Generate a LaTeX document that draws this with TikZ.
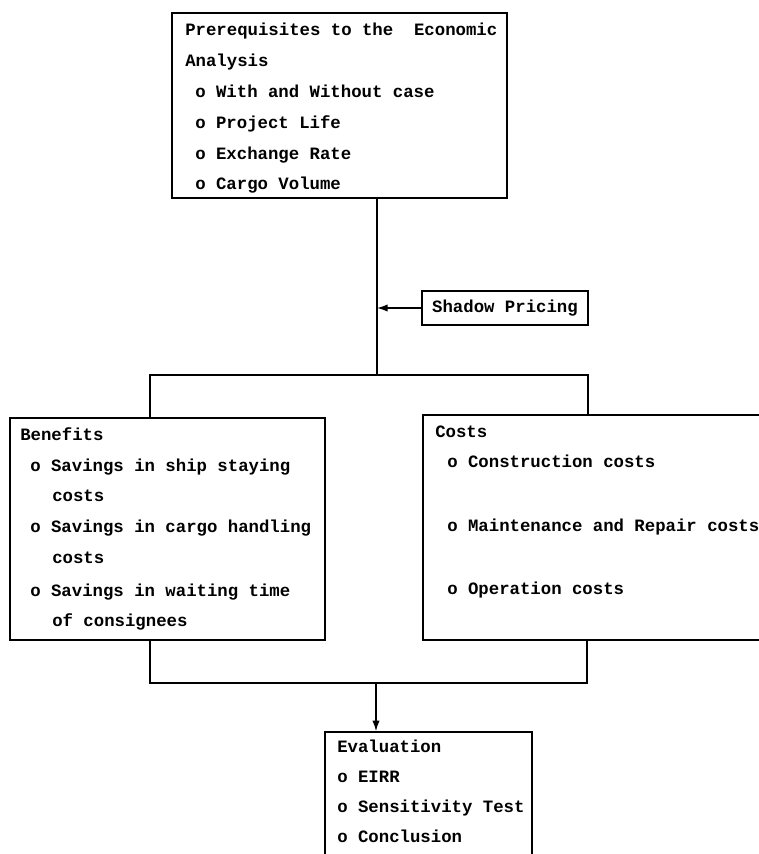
\documentclass[tikz,border=0pt]{standalone}
\usepackage{fontspec}
\setmainfont{Liberation Mono}
\usetikzlibrary{arrows.meta}
\newcommand{\pxu}{0.75pt}

\begin{document}
\begin{tikzpicture}[x=0.75pt, y=-0.75pt,
    box/.style={draw, line width=1.1pt, inner sep=0pt},
    txt/.style={anchor=base west, inner sep=0pt, font=\fontsize{13pt}{15pt}\selectfont\bfseries},
    conn/.style={line width=1.1pt},
    arr/.style={conn, -{Latex[length=8pt, width=5.5pt]}}]
  \useasboundingbox (0,0) rectangle (759,854);

  % Prerequisites box
  \node[box, minimum width=335*\pxu, minimum height=185*\pxu] (prereq) at (339.5,105.5) {};
  \foreach \xx/\yy/\txt [count=\i] in {185/35/Prerequisites to the~~Economic, 185/66/Analysis,
      195/97/o With and Without case, 195/128/o Project Life,
      195/159/o Exchange Rate, 195/189/o Cargo Volume}
    \node[txt] (prereq\i) at (\xx,\yy) {\txt};

  % Shadow pricing
  \node[box, font=\fontsize{13pt}{15pt}\selectfont\bfseries, minimum width=166*\pxu, minimum height=34*\pxu] (shadow) at (505,308) {Shadow Pricing};

  % Benefits box
  \node[box, minimum width=315*\pxu, minimum height=222*\pxu] (benefits) at (167.5,529) {};
  \foreach \xx/\yy/\txt [count=\i] in {20/440/Benefits, 30/471/o Savings in ship staying,
      52/501/costs, 30/532/o Savings in cargo handling, 52/563/costs,
      30/596/o Savings in waiting time, 52/626/of consignees}
    \node[txt] (benefits\i) at (\xx,\yy) {\txt};

  % Costs box
  \node[box, minimum width=377*\pxu, minimum height=225*\pxu] (costs) at (611.5,527.5) {};
  \foreach \xx/\yy/\txt [count=\i] in {435/437/Costs, 447/467/o Construction costs,
      447/531/o Maintenance and Repair costs, 447/594/o Operation costs}
    \node[txt] (costs\i) at (\xx,\yy) {\txt};

  % Evaluation box
  \node[box, minimum width=207*\pxu, minimum height=168*\pxu] (eval) at (428.5,816) {};
  \foreach \xx/\yy/\txt [count=\i] in {337/752/Evaluation, 337/782/o EIRR,
      337/812/o Sensitivity Test, 337/842/o Conclusion}
    \node[txt] (eval\i) at (\xx,\yy) {\txt};

  % Connectors
  \coordinate (split) at (377,375);
  \coordinate (splitL) at (150,375);
  \coordinate (splitR) at (588,375);
  \draw[conn] (prereq.south -| split) -- (split);
  \draw[arr] (shadow.west) -- (shadow.west -| split);
  \draw[conn] (benefits.north -| splitL) -- (splitL) -- (splitR) -- (costs.north -| splitR);

  \coordinate (merge) at (376,683);
  \coordinate (mergeL) at (150,683);
  \coordinate (mergeR) at (587,683);
  \draw[conn] (benefits.south -| mergeL) -- (mergeL) -- (mergeR) -- (costs.south -| mergeR);
  \draw[arr] (merge) -- (eval.north -| merge);
\end{tikzpicture}
\end{document}
